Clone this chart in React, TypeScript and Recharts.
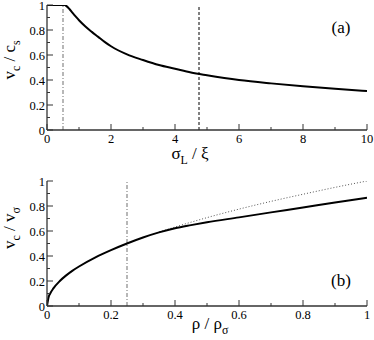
import { LineChart, Line, XAxis, YAxis, ReferenceLine } from "recharts";

// panel (a): critical velocity vs sigma_L / xi
const sigmaX = [0, 0.3, 0.55, 0.6, 0.7, 0.8, 0.9, 1.0, 1.2, 1.4, 1.6, 1.8, 2.0, 2.5, 3.0, 3.5, 4.0, 4.5, 5.0, 6.0, 7.0, 8.0, 9.0, 10.0];
const vcOverCs = [1, 1, 1, 0.993, 0.968, 0.937, 0.907, 0.878, 0.828, 0.785, 0.745, 0.705, 0.67, 0.605, 0.56, 0.52, 0.49, 0.46, 0.438, 0.4, 0.373, 0.35, 0.33, 0.312];

// panel (b): critical velocity vs density
const rhoX = [0, 0.005, 0.01, 0.02, 0.04, 0.06, 0.08, 0.1, 0.15, 0.2, 0.25, 0.3, 0.35, 0.4, 0.45, 0.5, 0.6, 0.7, 0.8, 0.9, 1.0];
const vcOverVs = [0, 0.07, 0.1, 0.141, 0.2, 0.245, 0.283, 0.316, 0.387, 0.447, 0.5, 0.548, 0.589, 0.622, 0.647, 0.67, 0.709, 0.749, 0.788, 0.828, 0.866];
const dottedX = [0.35, 0.4, 0.5, 0.6, 0.7, 0.8, 0.9, 1.0];
const dottedY = [0.592, 0.632, 0.707, 0.775, 0.837, 0.894, 0.949, 1.0];

const xTicksA = [0, 1, 2, 3, 4, 5, 6, 7, 8, 9, 10];
const xTicksB = [0, 0.1, 0.2, 0.3, 0.4, 0.5, 0.6, 0.7, 0.8, 0.9, 1];
const yTicks = [0, 0.1, 0.2, 0.3, 0.4, 0.5, 0.6, 0.7, 0.8, 0.9, 1];

const dataA = sigmaX.map((x, i) => ({ x, v: vcOverCs[i] }));
const dataB = rhoX.map((x, i) => ({ x, v: vcOverVs[i] }));
const dataDot = dottedX.map((x, i) => ({ x, v: dottedY[i] }));

const FONT = "Liberation Serif, Times New Roman, Liberation Sans, Arial, sans-serif";
const FRAME = "#333";
const W = 374;
const H = 170;

const isMajor = (v: number, step: number) =>
  Math.abs(v / step - Math.round(v / step)) < 1e-6;

const fmt = (v: number) => String(+v.toFixed(1));

function makeTick(side: "bottom" | "top" | "left" | "right", step: number, labels: boolean) {
  return (props: any) => {
    const { x, y, payload } = props;
    const val = payload.value as number;
    const major = isMajor(val, step);
    const len = major ? 6 : 3;
    let line;
    if (side === "bottom") line = <line x1={x} x2={x} y1={y} y2={y - len} />;
    else if (side === "top") line = <line x1={x} x2={x} y1={y} y2={y + len} />;
    else if (side === "left") line = <line x1={x} x2={x + len} y1={y} y2={y} />;
    else line = <line x1={x} x2={x - len} y1={y} y2={y} />;
    return (
      <g stroke={FRAME} strokeWidth={1}>
        {line}
        {labels && major && side === "bottom" && (
          <text x={x} y={y + 13} textAnchor="middle" fill="#000" stroke="none" fontSize={12.5} fontFamily={FONT}>
            {fmt(val)}
          </text>
        )}
        {labels && major && side === "left" && (
          <text x={x - 2} y={y + 5} textAnchor="end" fill="#000" stroke="none" fontSize={12.5} fontFamily={FONT}>
            {fmt(val)}
          </text>
        )}
      </g>
    );
  };
}

function Panel({
  data,
  extra,
  xTicks,
  xMax,
  xStep,
  marks,
  top,
}: {
  data: { x: number; v: number }[];
  extra?: { x: number; v: number }[];
  xTicks: number[];
  xMax: number;
  xStep: number;
  marks: React.ReactNode;
  top: number;
}) {
  return (
    <LineChart width={W} height={H} margin={{ top, right: 7, left: 0, bottom: 0 }}>
      <XAxis
        type="number"
        dataKey="x"
        domain={[0, xMax]}
        ticks={xTicks}
        interval={0}
        allowDataOverflow
        height={H - top - 125}
        tickSize={0}
        tickMargin={0}
        tickLine={false}
        axisLine={{ stroke: FRAME, strokeWidth: 1.3 }}
        tick={makeTick("bottom", xStep * 2, true)}
      />
      <XAxis
        xAxisId="top"
        orientation="top"
        type="number"
        dataKey="x"
        domain={[0, xMax]}
        ticks={xTicks}
        interval={0}
        height={0}
        tickSize={0}
        tickMargin={0}
        tickLine={false}
        axisLine={{ stroke: FRAME, strokeWidth: 1.3 }}
        tick={makeTick("top", xStep * 2, false)}
      />
      <YAxis
        type="number"
        domain={[0, 1]}
        ticks={yTicks}
        interval={0}
        allowDataOverflow
        width={47}
        tickSize={0}
        tickMargin={0}
        tickLine={false}
        axisLine={{ stroke: FRAME, strokeWidth: 1.3 }}
        tick={makeTick("left", 0.2, true)}
      />
      <YAxis
        yAxisId="right"
        orientation="right"
        type="number"
        domain={[0, 1]}
        ticks={yTicks}
        interval={0}
        width={0}
        tickSize={0}
        tickMargin={0}
        tickLine={false}
        axisLine={{ stroke: FRAME, strokeWidth: 1.3 }}
        tick={makeTick("right", 0.2, false)}
      />
      {marks}
      {extra && (
        <Line
          data={extra}
          dataKey="v"
          type="monotone"
          stroke="#555"
          strokeWidth={1}
          strokeDasharray="1 2"
          dot={false}
          isAnimationActive={false}
        />
      )}
      <Line
        data={data}
        dataKey="v"
        type="monotone"
        stroke="#000"
        strokeWidth={2}
        dot={false}
        isAnimationActive={false}
      />
    </LineChart>
  );
}

const txt: React.CSSProperties = {
  position: "absolute",
  fontFamily: FONT,
  color: "#000",
  whiteSpace: "nowrap",
  lineHeight: 1,
};
const sub: React.CSSProperties = { fontSize: "0.7em", verticalAlign: "-0.35em" };

export default function App() {
  return (
    <div style={{ position: "fixed", left: 0, top: 0, width: W, height: 340, background: "#fff" }}>
      <div style={{ position: "absolute", left: 0, top: 0 }}>
        <Panel
          data={dataA}
          xTicks={xTicksA}
          xMax={10}
          xStep={1}
          top={5}
          marks={[
            <ReferenceLine key="a1" x={0.5} stroke="#888" strokeWidth={1.2} strokeDasharray="4 2 1 2" />,
            <ReferenceLine key="a2" x={4.75} stroke="#000" strokeWidth={1} strokeDasharray="3 2" />,
          ]}
        />
      </div>
      <div style={{ position: "absolute", left: 0, top: 170 }}>
        <Panel
          data={dataB}
          extra={dataDot}
          xTicks={xTicksB}
          xMax={1}
          xStep={0.1}
          top={11}
          marks={[
            <ReferenceLine key="b1" x={0.25} stroke="#888" strokeWidth={1.2} strokeDasharray="4 2 1 2" />,
          ]}
        />
      </div>

      {/* axis titles and panel tags */}
      <div style={{ ...txt, fontSize: 17, left: 12, top: 60, transform: "translate(-50%, -50%) rotate(-90deg)" }}>
        v<span style={sub}>c</span> / c<span style={sub}>s</span>
      </div>
      <div style={{ ...txt, fontSize: 17, left: 190, top: 156, transform: "translate(-50%, -50%)" }}>
        σ<span style={sub}>L</span> / ξ
      </div>
      <div style={{ ...txt, fontSize: 17, left: 341, top: 27, transform: "translate(-50%, -50%)" }}>(a)</div>

      <div style={{ ...txt, fontSize: 17, left: 12, top: 228, transform: "translate(-50%, -50%) rotate(-90deg)" }}>
        v<span style={sub}>c</span> / v<span style={sub}>σ</span>
      </div>
      <div style={{ ...txt, fontSize: 17, left: 210, top: 326, transform: "translate(-50%, -50%)" }}>
        ρ / ρ<span style={sub}>σ</span>
      </div>
      <div style={{ ...txt, fontSize: 17, left: 341, top: 280, transform: "translate(-50%, -50%)" }}>(b)</div>
    </div>
  );
}
